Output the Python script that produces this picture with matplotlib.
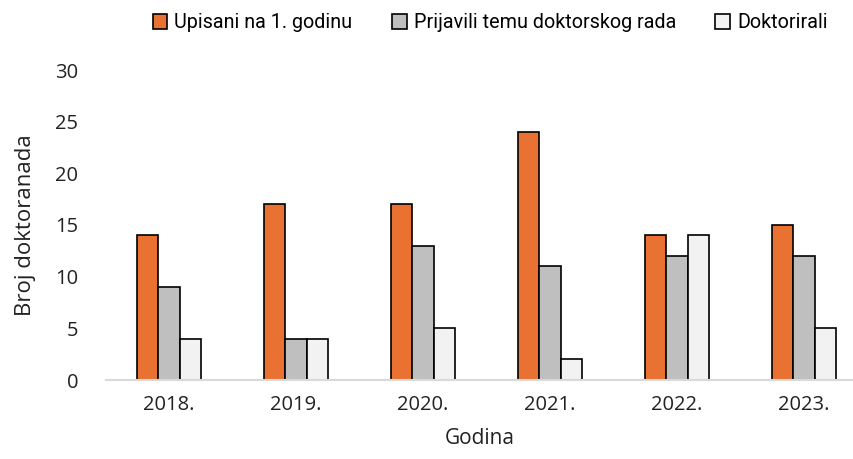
import matplotlib
matplotlib.use("Agg")
import matplotlib.pyplot as plt
import numpy as np

years = ["2018.", "2019.", "2020.", "2021.", "2022.", "2023."]
series_names = ["Upisani na 1. godinu", "Prijavili temu doktorskog rada", "Doktorirali"]
upisani = [14, 17, 17, 24, 14, 15]
prijavili = [9, 4, 13, 11, 12, 12]
doktorirali = [4, 4, 5, 2, 14, 5]
colors = ["#E97132", "#BFBFBF", "#F2F2F2"]

plt.rcParams["font.family"] = ["Open Sans", "DejaVu Sans"]

fig = plt.figure(figsize=(8.54, 4.59), dpi=100)
ax = fig.add_axes([106/854, 1-380/459, 1-106/854, (380-70)/459])

x = np.arange(len(years))
w = 0.169
for i, (vals, name, c) in enumerate(zip([upisani, prijavili, doktorirali], series_names, colors)):
    ax.bar(x + (i-1)*w, vals, width=w, color=c, edgecolor="black", linewidth=1.2, label=name)

ax.set_xlim(-0.496, 5.394)
ax.set_ylim(0, 30)
ax.set_yticks(range(0, 31, 5))
ax.set_xticks(x)
ax.set_xticklabels(years)
for s in ["top", "right", "left"]:
    ax.spines[s].set_visible(False)
ax.spines["bottom"].set_color("#D9D9D9")
ax.spines["bottom"].set_linewidth(1.5)
ax.tick_params(axis="both", length=0, labelsize=14.5, colors="#222222")
ax.tick_params(axis="y", pad=20)
ax.tick_params(axis="x", pad=11)
ax.set_ylabel("Broj doktoranada", fontsize=16, labelpad=14, color="#222222")
ax.set_xlabel("Godina", fontsize=15, labelpad=9, color="#222222")

leg = fig.legend(loc="upper center", bbox_to_anchor=(0.574, 1.01), ncol=3, frameon=False,
                 handlelength=0.75, handleheight=0.75, handletextpad=0.35, columnspacing=2.0,
                 prop={"family": ["Roboto", "DejaVu Sans"], "size": 14.2})

fig.savefig("out.png", dpi=100)
